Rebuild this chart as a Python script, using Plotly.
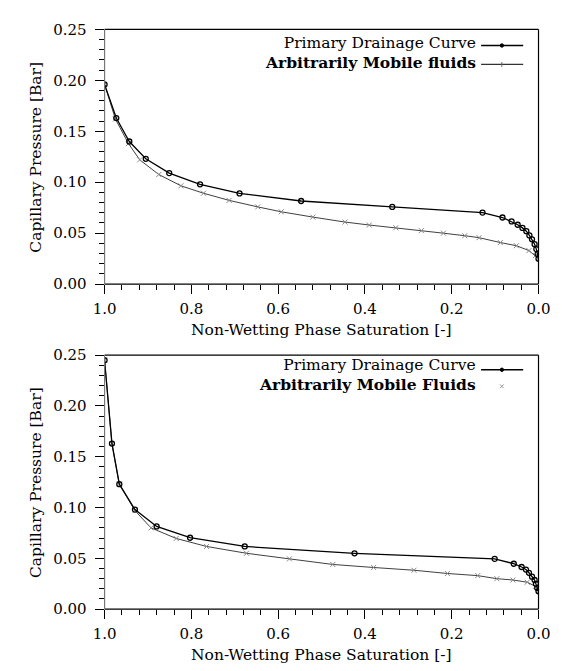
import plotly.graph_objects as go

# ---------------- data ----------------
top_primary_s = [1.0, 0.973, 0.943, 0.905, 0.851, 0.780, 0.689, 0.547, 0.337, 0.129,
                 0.083, 0.062, 0.048, 0.037, 0.028, 0.021, 0.015, 0.009, 0.005, 0.002, 0.0]
top_primary_pc = [0.196, 0.163, 0.140, 0.123, 0.109, 0.098, 0.089, 0.0816, 0.0758, 0.0702,
                  0.0654, 0.0615, 0.0583, 0.0552, 0.052, 0.0478, 0.044, 0.0392, 0.0344, 0.0296, 0.0249]

top_mobile_s = [1.0, 0.975, 0.945, 0.919, 0.875, 0.824, 0.772, 0.713, 0.647, 0.593, 0.52,
                0.446, 0.39, 0.329, 0.27, 0.219, 0.17, 0.137, 0.088, 0.051, 0.022, 0.007, 0.0]
top_mobile_pc = [0.196, 0.162, 0.138, 0.122, 0.1076, 0.0965, 0.0892, 0.0822, 0.0758, 0.071, 0.0658,
                 0.0609, 0.058, 0.0553, 0.0525, 0.050, 0.0475, 0.0456, 0.0408, 0.0377, 0.0329, 0.028, 0.025]

bot_primary_s = [1.0, 0.983, 0.966, 0.930, 0.880, 0.803, 0.677, 0.424, 0.101, 0.057,
                 0.039, 0.029, 0.022, 0.015, 0.009, 0.006, 0.003, 0.0]
bot_primary_pc = [0.245, 0.163, 0.123, 0.098, 0.0814, 0.0703, 0.0617, 0.055, 0.0495, 0.0447,
                  0.0415, 0.039, 0.0358, 0.032, 0.0287, 0.0249, 0.0208, 0.0176]

bot_mobile_s = [1.0, 0.983, 0.966, 0.930, 0.893, 0.835, 0.765, 0.673, 0.574, 0.474, 0.38,
                0.287, 0.21, 0.14, 0.096, 0.059, 0.026, 0.007, 0.0]
bot_mobile_pc = [0.245, 0.163, 0.123, 0.097, 0.080, 0.0696, 0.0617, 0.055, 0.0495, 0.044, 0.041,
                 0.0383, 0.0351, 0.033, 0.030, 0.0287, 0.0265, 0.0224, 0.0176]

x_title = "Non-Wetting Phase Saturation [-]"
y_title = "Capillary Pressure [Bar]"
legend_primary = "Primary Drainage Curve"
legend_mobile_top = "Arbitrarily Mobile fluids"
legend_mobile_bot = "Arbitrarily Mobile Fluids"

# ---------------- layout helpers ----------------
W, H = 562, 671
FONT = "DejaVu Serif, Liberation Serif, serif"


def px(x):
    return x / W


def py(y):
    return 1 - y / H


X0, X1 = 96.7, 550.0
TOP = (21.0, 282.7)
BOT = (355.7, 616.7)

fig = go.Figure()

primary_style = dict(mode="lines+markers",
                     line=dict(color="black", width=1.3),
                     marker=dict(symbol="circle-open", size=5, color="black",
                                 line=dict(width=1.3, color="black")),
                     showlegend=False)
mobile_style = dict(mode="lines+markers",
                    line=dict(color="#404040", width=1),
                    marker=dict(symbol="x-thin-open", size=5, color="#888",
                                line=dict(width=1, color="#888")),
                    showlegend=False)

fig.add_trace(go.Scatter(x=top_mobile_s, y=top_mobile_pc, xaxis="x", yaxis="y", **mobile_style))
fig.add_trace(go.Scatter(x=top_primary_s, y=top_primary_pc, xaxis="x", yaxis="y", **primary_style))
fig.add_trace(go.Scatter(x=bot_mobile_s, y=bot_mobile_pc, xaxis="x2", yaxis="y2", **mobile_style))
fig.add_trace(go.Scatter(x=bot_primary_s, y=bot_primary_pc, xaxis="x2", yaxis="y2", **primary_style))

tickfont = dict(family=FONT, size=15, color="black")


def xax(anchor):
    return dict(domain=[px(X0), px(X1)], anchor=anchor, range=[1.0, 0.0],
                dtick=0.2, tick0=0, tickformat=".1f", ticks="outside", ticklen=9,
                tickcolor="black", tickwidth=1, ticklabelstandoff=2,
                minor=dict(ticks="outside", ticklen=5, dtick=0.04, tick0=0,
                           tickcolor="black", showgrid=False),
                showgrid=False, zeroline=False, showline=False, tickfont=tickfont)


def yax(anchor, dom):
    return dict(domain=dom, anchor=anchor, range=[0, 0.25],
                dtick=0.05, tick0=0, tickformat=".2f", ticks="outside", ticklen=9,
                tickcolor="black", tickwidth=1, ticklabelstandoff=5,
                minor=dict(ticks="outside", ticklen=5, dtick=0.01, tick0=0,
                           tickcolor="black", showgrid=False),
                showgrid=False, zeroline=False, showline=False, tickfont=tickfont)


fig.update_layout(
    width=W, height=H,
    margin=dict(l=0, r=0, t=0, b=0),
    paper_bgcolor="white", plot_bgcolor="white",
    xaxis=xax("y"),
    yaxis=yax("x", [py(TOP[1]), py(TOP[0])]),
    xaxis2=xax("y2"),
    yaxis2=yax("x2", [py(BOT[1]), py(BOT[0])]),
    font=dict(family=FONT, color="black"),
)

shapes = []
annotations = []
for (ytop, ybot) in [TOP, BOT]:
    # frame: top, right, bottom black; left grey
    shapes.append(dict(type="line", xref="paper", yref="paper", x0=px(X0), x1=px(X1),
                       y0=py(ytop), y1=py(ytop), line=dict(color="black", width=1.2)))
    shapes.append(dict(type="line", xref="paper", yref="paper", x0=px(X1), x1=px(X1),
                       y0=py(ytop), y1=py(ybot), line=dict(color="black", width=1.2)))
    shapes.append(dict(type="line", xref="paper", yref="paper", x0=px(X0), x1=px(X1),
                       y0=py(ybot), y1=py(ybot), line=dict(color="black", width=1.2)))
    shapes.append(dict(type="line", xref="paper", yref="paper", x0=px(X0), x1=px(X0),
                       y0=py(ytop), y1=py(ybot), line=dict(color="#777", width=1.2)))
    # axis titles
    annotations.append(dict(text=y_title, xref="paper", yref="paper", x=px(25),
                            y=py((ytop + ybot) / 2), textangle=-90, showarrow=False,
                            xanchor="center", yanchor="middle",
                            font=dict(family=FONT, size=15.5, color="black")))
    annotations.append(dict(text=x_title, xref="paper", yref="paper", x=px((X0 + X1) / 2),
                            y=py(ybot + 47), showarrow=False, xanchor="center", yanchor="middle",
                            font=dict(family=FONT, size=15.5, color="black")))

# legends (text right aligned, key on the right)
for base, mob_label, mob_line in [(TOP[0], legend_mobile_top, True), (BOT[0], legend_mobile_bot, False)]:
    top_panel = base == TOP[0]
    yc = base + (24 if top_panel else 20)   # centre of two-line legend text
    annotations.append(dict(text=legend_primary + "<br><b>" + mob_label + "</b>",
                            xref="paper", yref="paper", x=px(487), y=py(yc),
                            xanchor="right", yanchor="middle", align="right", showarrow=False,
                            font=dict(family=FONT, size=15.5, color="black")))
    ky1 = yc - 9 + (1.5 if top_panel else 4)
    ky2 = yc + 11 + 1
    shapes.append(dict(type="line", xref="paper", yref="paper", x0=px(490), x1=px(534),
                       y0=py(ky1), y1=py(ky1), line=dict(color="black", width=1.3)))
    shapes.append(dict(type="circle", xref="paper", yref="paper", x0=px(510), x1=px(513.5),
                       y0=py(ky1 - 1.75), y1=py(ky1 + 1.75), line=dict(color="black", width=1),
                       fillcolor="black"))
    if mob_line:
        shapes.append(dict(type="line", xref="paper", yref="paper", x0=px(490), x1=px(534),
                           y0=py(ky2), y1=py(ky2), line=dict(color="#333", width=1.2)))
        shapes.append(dict(type="line", xref="paper", yref="paper", x0=px(511.7), x1=px(511.7),
                           y0=py(ky2 - 2.5), y1=py(ky2 + 2.5), line=dict(color="#666", width=1)))
    else:
        shapes.append(dict(type="line", xref="paper", yref="paper", x0=px(509.7), x1=px(513.7),
                           y0=py(ky2 - 2), y1=py(ky2 + 2), line=dict(color="#999", width=1)))
        shapes.append(dict(type="line", xref="paper", yref="paper", x0=px(509.7), x1=px(513.7),
                           y0=py(ky2 + 2), y1=py(ky2 - 2), line=dict(color="#999", width=1)))

fig.update_layout(shapes=shapes, annotations=annotations)

fig.write_html("out.html")
